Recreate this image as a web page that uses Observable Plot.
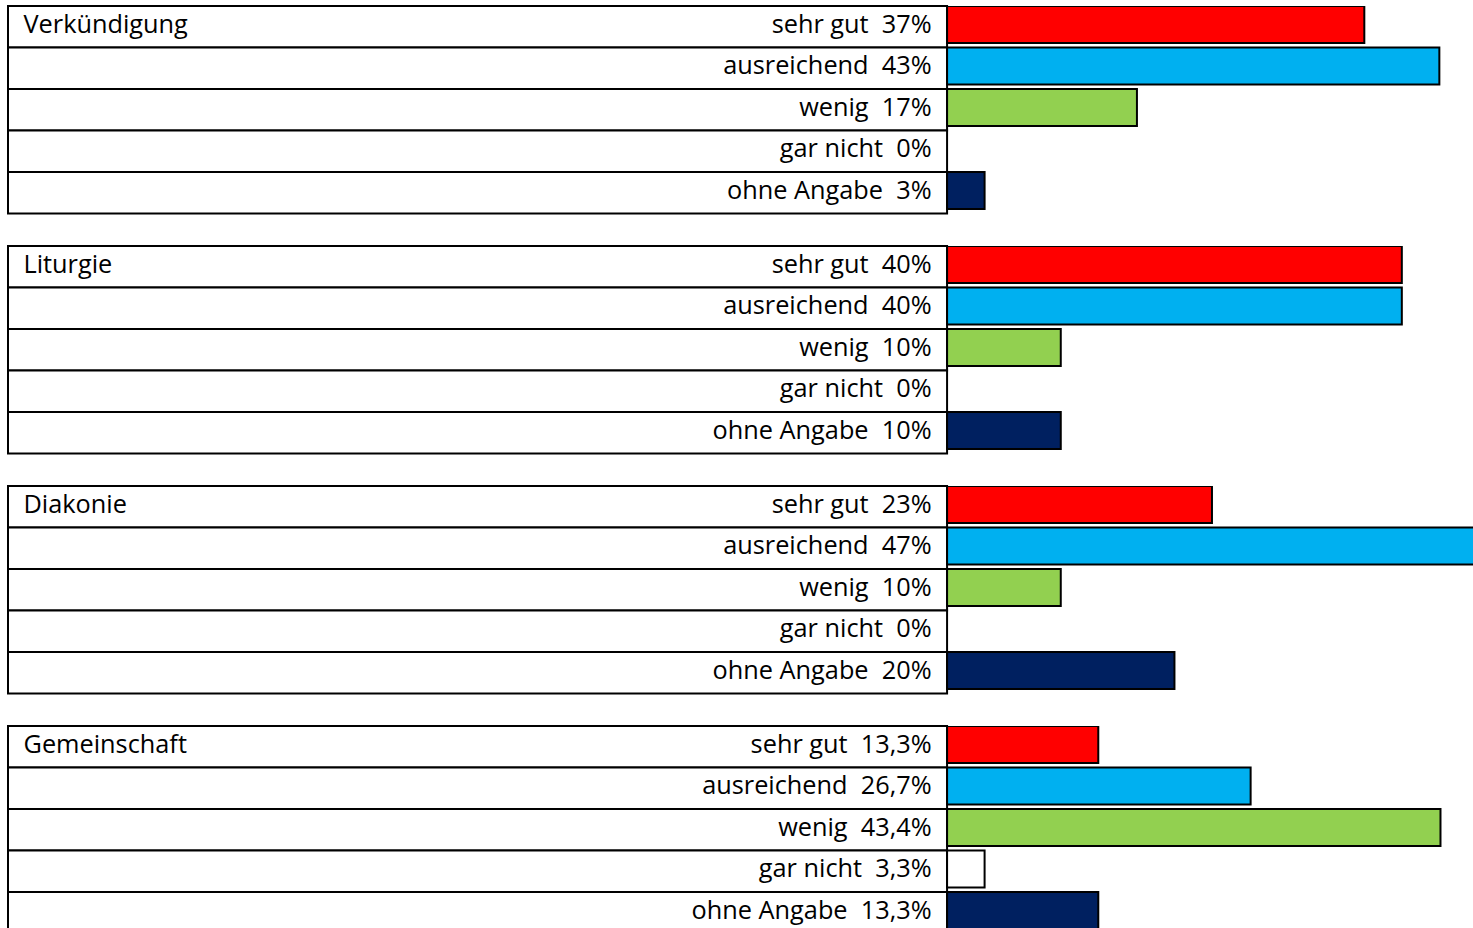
<!DOCTYPE html>
<html>
<head>
<meta charset="utf-8">
<script src="https://cdn.jsdelivr.net/npm/d3@7"></script>
<script src="https://cdn.jsdelivr.net/npm/@observablehq/plot@0.6"></script>
<style>
  html, body { margin: 0; padding: 0; background: #fff; overflow: hidden; }
  #chart svg text { white-space: pre; }
</style>
</head>
<body>
<div id="chart"></div>
<script>
// ---- data ----
const groups = ["Verkündigung", "Liturgie", "Diakonie", "Gemeinschaft"];
const categories = ["sehr gut", "ausreichend", "wenig", "gar nicht", "ohne Angabe"];
const colors = ["#FF0000", "#00B0F0", "#92D050", "#FFFFFF", "#002060"];

// bar lengths (percent), estimated from the bars
const verkuendigungValues = [36.7, 43.3, 16.7, 0, 3.3];
const liturgieValues      = [40, 40, 10, 0, 10];
const diakonieValues      = [23.3, 46.7, 10, 0, 20];
const gemeinschaftValues  = [13.3, 26.7, 43.4, 3.3, 13.3];

// value labels as printed
const verkuendigungLabels = ["37%", "43%", "17%", "0%", "3%"];
const liturgieLabels      = ["40%", "40%", "10%", "0%", "10%"];
const diakonieLabels      = ["23%", "47%", "10%", "0%", "20%"];
const gemeinschaftLabels  = ["13,3%", "26,7%", "43,4%", "3,3%", "13,3%"];

const valuesByGroup = [verkuendigungValues, liturgieValues, diakonieValues, gemeinschaftValues];
const labelsByGroup = [verkuendigungLabels, liturgieLabels, diakonieLabels, gemeinschaftLabels];

// x domain: left part holds the label boxes, right part the bars
const xDomain = [-82.6, 46.26];

const rows = groups.flatMap((g, gi) =>
  categories.map((c, ci) => ({
    group: g,
    cat: c,
    value: valuesByGroup[gi][ci],
    label: labelsByGroup[gi][ci]
  }))
);
const titles = groups.map(g => ({group: g, cat: categories[0]}));

const font = "'Open Sans', sans-serif";
const fontSize = 25.3;

const chart = Plot.plot({
  width: 1473,
  height: 934,
  marginTop: 0, marginRight: 0, marginBottom: 0, marginLeft: 0,
  facet: {marginTop: 0, marginRight: 0, marginBottom: 0, marginLeft: 0},
  style: {fontFamily: font, background: "#fff"},
  x: {domain: xDomain, range: [8, 1473], axis: null},
  y: {domain: categories, padding: 0, round: false, axis: null},
  fy: {domain: groups, range: [6, 933.5], paddingInner: 0.1354, paddingOuter: 0, round: false, axis: null},
  color: {domain: categories, range: colors},
  marks: [
    // label boxes
    Plot.barX(rows, {
      x1: xDomain[0], x2: 0, y: "cat", fy: "group",
      fill: "#fff", stroke: "#000", strokeWidth: 2
    }),
    // value bars
    Plot.barX(rows.filter(d => d.value > 0), {
      x1: 0, x2: "value", y: "cat", fy: "group",
      fill: "cat", stroke: "#000", strokeWidth: 2, insetBottom: 4.5, clip: true
    }),
    // category + value labels
    Plot.text(rows, {
      x: 0, y: "cat", fy: "group",
      text: d => `${d.cat}  ${d.label}`,
      textAnchor: "end", dx: -16, dy: -2.5,
      fontSize, fill: "#000", fontFamily: font
    }),
    // group titles
    Plot.text(titles, {
      x: xDomain[0], y: "cat", fy: "group",
      text: "group",
      textAnchor: "start", dx: 15, dy: -2.5,
      fontSize, fill: "#000", fontFamily: font
    })
  ]
});
document.getElementById("chart").appendChild(chart);
</script>
</body>
</html>
